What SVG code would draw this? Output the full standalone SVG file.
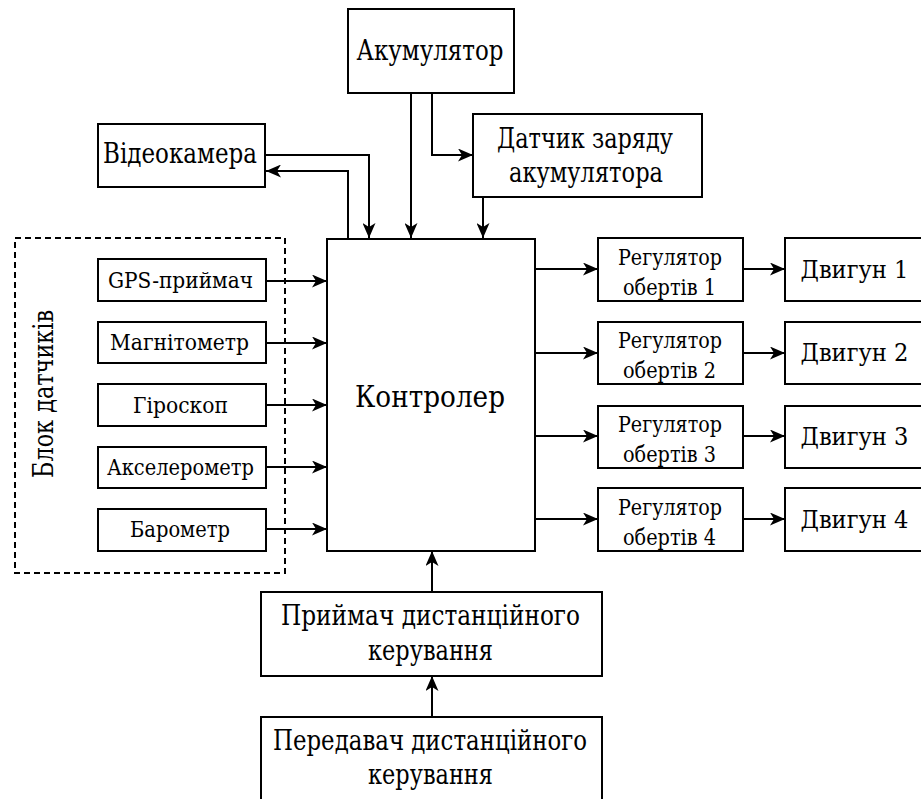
<svg xmlns="http://www.w3.org/2000/svg" width="921" height="799" viewBox="0 0 921 799" font-family="'DejaVu Serif', 'Liberation Serif', serif">
<style>
.box{fill:#fff;stroke:#000;stroke-width:2}
.dash{fill:none;stroke:#000;stroke-width:2;stroke-dasharray:6 4}
.t{fill:#000;text-anchor:middle}
.big{font-size:27px}
.mot{font-size:25px}
.ctl{font-size:30px}
.sen{font-size:22px}
.reg{font-size:22px}
.c{fill:none;stroke:#000;stroke-width:2;marker-end:url(#ah)}
</style>
<defs>
<marker id="ah" markerUnits="userSpaceOnUse" markerWidth="16" markerHeight="13" refX="15" refY="6.5" orient="auto" viewBox="0 0 16 13">
<path d="M0,0 L15,6.5 L0,13 L4,6.5 z" fill="#000"/>
</marker>
</defs>
<rect class="dash" x="15" y="238" width="270" height="335"/>
<g id="sensorblock"><text class="t big" transform="translate(53,394) rotate(-90)" textLength="168" lengthAdjust="spacingAndGlyphs">Блок датчиків</text></g>
<g id="connectors">
<path class="c" d="M265,155 H369 V238"/>
<path class="c" d="M348,239 V171 H266"/>
<path class="c" d="M411,93 V238"/>
<path class="c" d="M432,93 V155 H473"/>
<path class="c" d="M483,197 V238"/>
<path class="c" d="M266,281 H327"/>
<path class="c" d="M266,343 H327"/>
<path class="c" d="M266,405 H327"/>
<path class="c" d="M266,467 H327"/>
<path class="c" d="M266,529 H327"/>
<path class="c" d="M535,269 H598"/>
<path class="c" d="M535,353 H598"/>
<path class="c" d="M535,436 H598"/>
<path class="c" d="M535,519 H598"/>
<path class="c" d="M743,269 H785"/>
<path class="c" d="M743,353 H785"/>
<path class="c" d="M743,436 H785"/>
<path class="c" d="M743,519 H785"/>
<path class="c" d="M432,592 V551"/>
<path class="c" d="M432,717 V676"/>
</g>
<g id="akumulyator"><rect class="box" x="348" y="9" width="166" height="84"/><text class="t big" x="430" y="60" textLength="147" lengthAdjust="spacingAndGlyphs">Акумулятор</text></g>
<g id="videokamera"><rect class="box" x="98" y="124" width="167" height="63"/><text class="t big" x="180" y="163" textLength="154" lengthAdjust="spacingAndGlyphs">Відеокамера</text></g>
<g id="datchyk"><rect class="box" x="473" y="114" width="229" height="83"/><text class="t big" x="585" y="148" textLength="176" lengthAdjust="spacingAndGlyphs">Датчик заряду</text><text class="t big" x="586" y="182" textLength="154" lengthAdjust="spacingAndGlyphs">акумулятора</text></g>
<g id="controller"><rect class="box" x="327" y="239" width="208" height="312"/><text class="t ctl" x="430" y="407" textLength="150" lengthAdjust="spacingAndGlyphs">Контролер</text></g>
<g id="gps"><rect class="box" x="98" y="259" width="168" height="42"/><text class="t sen" x="180.5" y="288" textLength="145" lengthAdjust="spacingAndGlyphs">GPS-приймач</text></g>
<g id="magnitometr"><rect class="box" x="98" y="322" width="168" height="41"/><text class="t sen" x="179.5" y="350" textLength="139" lengthAdjust="spacingAndGlyphs">Магнітометр</text></g>
<g id="giroskop"><rect class="box" x="98" y="384" width="168" height="42"/><text class="t sen" x="180.5" y="413" textLength="95" lengthAdjust="spacingAndGlyphs">Гіроскоп</text></g>
<g id="akselerometr"><rect class="box" x="98" y="447" width="168" height="41"/><text class="t sen" x="180.5" y="475" textLength="147" lengthAdjust="spacingAndGlyphs">Акселерометр</text></g>
<g id="barometr"><rect class="box" x="98" y="509" width="168" height="42"/><text class="t sen" x="180" y="537" textLength="100" lengthAdjust="spacingAndGlyphs">Барометр</text></g>
<g id="reg1"><rect class="box" x="598" y="238" width="145" height="63"/><text class="t reg" x="670" y="265" textLength="104" lengthAdjust="spacingAndGlyphs">Регулятор</text><text class="t reg" x="669.5" y="295" textLength="93" lengthAdjust="spacingAndGlyphs">обертів 1</text></g>
<g id="reg2"><rect class="box" x="598" y="322" width="145" height="62"/><text class="t reg" x="670" y="348" textLength="104" lengthAdjust="spacingAndGlyphs">Регулятор</text><text class="t reg" x="669.5" y="378" textLength="93" lengthAdjust="spacingAndGlyphs">обертів 2</text></g>
<g id="reg3"><rect class="box" x="598" y="406" width="145" height="62"/><text class="t reg" x="670" y="432" textLength="104" lengthAdjust="spacingAndGlyphs">Регулятор</text><text class="t reg" x="669.5" y="462" textLength="93" lengthAdjust="spacingAndGlyphs">обертів 3</text></g>
<g id="reg4"><rect class="box" x="598" y="488" width="145" height="63"/><text class="t reg" x="670" y="515" textLength="104" lengthAdjust="spacingAndGlyphs">Регулятор</text><text class="t reg" x="669.5" y="545" textLength="93" lengthAdjust="spacingAndGlyphs">обертів 4</text></g>
<g id="motor1"><rect class="box" x="785" y="238" width="142" height="63"/><text class="t mot" x="854.5" y="278" textLength="108" lengthAdjust="spacingAndGlyphs">Двигун 1</text></g>
<g id="motor2"><rect class="box" x="785" y="322" width="142" height="62"/><text class="t mot" x="854.5" y="361" textLength="108" lengthAdjust="spacingAndGlyphs">Двигун 2</text></g>
<g id="motor3"><rect class="box" x="785" y="406" width="142" height="62"/><text class="t mot" x="854.5" y="445" textLength="108" lengthAdjust="spacingAndGlyphs">Двигун 3</text></g>
<g id="motor4"><rect class="box" x="785" y="488" width="142" height="63"/><text class="t mot" x="854.5" y="528" textLength="108" lengthAdjust="spacingAndGlyphs">Двигун 4</text></g>
<g id="pryimach"><rect class="box" x="261" y="592" width="341" height="84"/><text class="t big" x="430.5" y="625" textLength="299" lengthAdjust="spacingAndGlyphs">Приймач дистанційного</text><text class="t big" x="430.5" y="660" textLength="125" lengthAdjust="spacingAndGlyphs">керування</text></g>
<g id="peredavach"><rect class="box" x="261" y="717" width="341" height="100"/><text class="t big" x="430" y="750" textLength="314" lengthAdjust="spacingAndGlyphs">Передавач дистанційного</text><text class="t big" x="430.5" y="784" textLength="125" lengthAdjust="spacingAndGlyphs">керування</text></g>
</svg>
